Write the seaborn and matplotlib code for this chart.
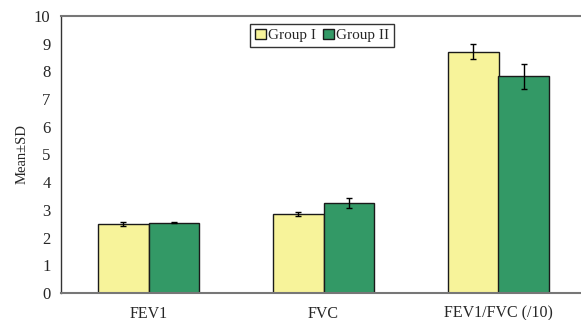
import matplotlib
matplotlib.use("Agg")
import matplotlib.pyplot as plt
import seaborn as sns
import pandas as pd
import numpy as np
from matplotlib.ticker import FixedLocator

categories = ["FEV1", "FVC", "FEV1/FVC (/10)"]
groups = ["Group I", "Group II"]
group1_mean = [2.49, 2.85, 8.71]
group1_sd = [0.06, 0.07, 0.28]
group2_mean = [2.54, 3.24, 7.83]
group2_sd = [0.03, 0.18, 0.45]
colors = ["#F7F39A", "#339966"]

sns.set_theme(style="white")
plt.rcParams['font.family'] = ['Liberation Serif', 'DejaVu Serif']

df = pd.DataFrame({
    "category": categories * 2,
    "group": [groups[0]] * 3 + [groups[1]] * 3,
    "mean": group1_mean + group2_mean,
    "sd": group1_sd + group2_sd,
})

fig = plt.figure(figsize=(5.81, 3.2), dpi=100)
ax = fig.add_axes([61 / 581, 1 - 293 / 320, 525 / 581, 277 / 320])

sns.barplot(data=df, x="category", y="mean", hue="group", order=categories,
            hue_order=groups, palette=colors, width=0.575, errorbar=None,
            edgecolor="#1a1a1a", linewidth=1.0, ax=ax, saturation=1)

# error bars at bar centres
for bars, grp in zip(ax.containers, groups):
    sub = df[df["group"] == grp].set_index("category").loc[categories]
    xs = [b.get_x() + b.get_width() / 2 for b in bars]
    ax.errorbar(xs, sub["mean"].values, yerr=sub["sd"].values, fmt="none",
                ecolor="black", elinewidth=1.0, capsize=2.5, capthick=1.0, zorder=5)

ax.set_xlim(-0.5, 2.5)
ax.set_ylim(0, 10)
ax.set_yticks(range(0, 11))
ax.set_xticks(range(3))
ax.set_xticklabels(categories, fontsize=11.5)
ax.xaxis.set_minor_locator(FixedLocator([-0.5, 0.5, 1.5, 2.5]))
ax.tick_params(axis="x", which="major", length=0, pad=9)
ax.tick_params(axis="x", which="minor", length=3, width=1, color="#555555", direction="out")
ax.tick_params(axis="y", which="major", length=3, width=1, color="#333333", direction="out",
               labelsize=12, pad=4.5)
ax.set_xlabel("")
ax.set_ylabel("Mean±SD", fontsize=10.5, labelpad=4)

for side in ["top", "bottom"]:
    ax.spines[side].set_visible(True)
    ax.spines[side].set_color("#777777")
    ax.spines[side].set_linewidth(1.5)
ax.spines["left"].set_visible(True)
ax.spines["left"].set_color("#333333")
ax.spines["left"].set_linewidth(1.0)
ax.spines["right"].set_visible(False)

leg = ax.legend(loc="upper center", bbox_to_anchor=(0.497, 0.971), ncol=2,
                frameon=True, fancybox=False, edgecolor="black", fontsize=11,
                handlelength=0.72, handleheight=0.65, handletextpad=0.15,
                columnspacing=0.45, borderpad=0.3, borderaxespad=0)
leg.get_frame().set_linewidth(1.0)

fig.savefig("out.png", dpi=100)
